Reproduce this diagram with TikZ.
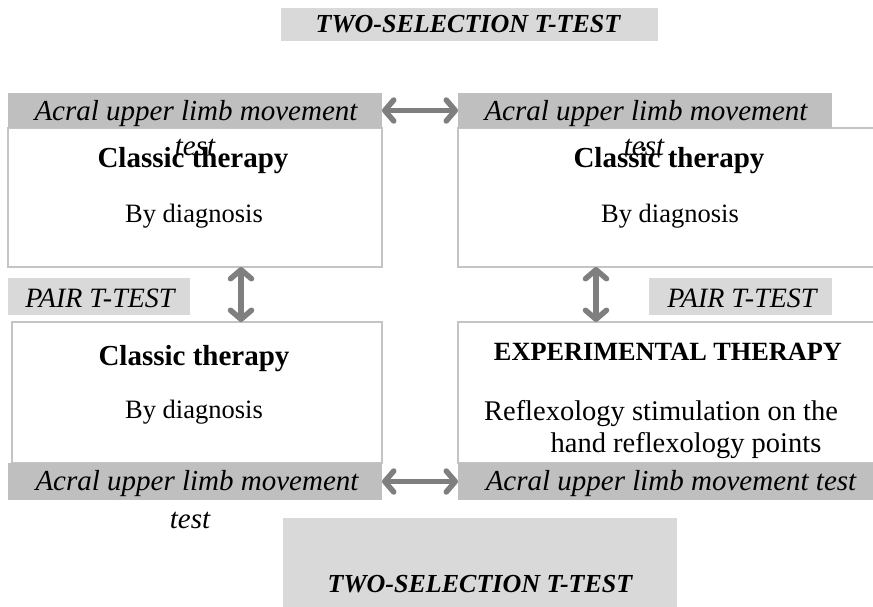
\documentclass[tikz,border=0pt]{standalone}
\usepackage{fontspec}
\setmainfont{Liberation Serif}
\usetikzlibrary{arrows.meta}
\definecolor{hdr}{HTML}{BFBFBF}
\definecolor{lite}{HTML}{D9D9D9}
\definecolor{edgec}{HTML}{C4C4C4}
\definecolor{arr}{HTML}{7F7F7F}
\tikzset{
 wbox/.style 2 args={draw=edgec, line width=1.5pt, fill=white, minimum width=#1, minimum height=#2, inner sep=0pt, outer sep=0pt},
 gbox/.style 2 args={fill=hdr, minimum width=#1, minimum height=#2, inner sep=0pt, outer sep=0pt},
 lbox/.style 2 args={fill=lite, minimum width=#1, minimum height=#2, inner sep=0pt, outer sep=0pt},
 itx/.style={font=\fontsize{29}{35}\selectfont\itshape, anchor=base, inner sep=0pt},
 pairtx/.style={font=\fontsize{28}{34}\selectfont\itshape, anchor=base, inner sep=0pt},
 bdx/.style={font=\fontsize{29}{35}\selectfont\bfseries, anchor=base, inner sep=0pt},
 bdsx/.style={font=\fontsize{26.3}{32}\selectfont\bfseries, anchor=base, inner sep=0pt},
 rgx/.style={font=\fontsize{26.5}{32}\selectfont, anchor=base, inner sep=0pt},
 rglx/.style={font=\fontsize{28.5}{34}\selectfont, anchor=base, inner sep=0pt},
 ttlx/.style={font=\fontsize{26}{32}\selectfont\bfseries\itshape, anchor=base, inner sep=0pt},
 dbl/.style={draw=arr, line width=5.5pt, {Straight Barb[length=9pt,width=21pt,round]}-{Straight Barb[length=9pt,width=21pt,round]}}
}
\begin{document}
\begin{tikzpicture}[x=1pt,y=-1pt]
\useasboundingbox (0,0) rectangle (873,606);
% titles
\node[lbox={377pt}{33pt}] (ttop) at (469.5,24.5) {};
\node[ttlx] (ttoptx) at (468,32) {TWO-SELECTION T-TEST};
\node[lbox={394pt}{92pt}] (tbot) at (480,564) {};
\node[ttlx] (tbottx) at (480,592) {TWO-SELECTION T-TEST};
% top-left
\node[wbox={374pt}{139pt}] (tl) at (195,197.5) {};
\node[gbox={374pt}{35pt}] (tlh) at (195,110.5) {};
\node[itx] (tlh1) at (196,120) {Acral upper limb movement};
\node[bdx] (tl1) at (193,167) {Classic therapy};
\node[itx] (tlh2) at (195,155) {test};
\node[rgx] (tl2) at (194,222) {By diagnosis};
% top-right
\node[wbox={422pt}{139pt}] (tr) at (669,197.5) {};
\node[gbox={374pt}{35pt}] (trh) at (645,110.5) {};
\node[itx] (trh1) at (646,120) {Acral upper limb movement};
\node[bdx] (tr1) at (669,167) {Classic therapy};
\node[itx] (trh2) at (644,155) {test};
\node[rgx] (tr2) at (670,222) {By diagnosis};
% pair labels
\node[lbox={182pt}{37pt}] (pl) at (99,296.5) {};
\node[pairtx] (pltx) at (100,307) {PAIR T-TEST};
\node[lbox={183pt}{37pt}] (pr) at (740.5,296.5) {};
\node[pairtx] (prtx) at (742,307) {PAIR T-TEST};
% bottom-left
\node[wbox={370pt}{141pt}] (bl) at (197,392.5) {};
\node[gbox={374pt}{37pt}] (blf) at (195,481.5) {};
\node[bdx] (bl1) at (194,365) {Classic therapy};
\node[rgx] (bl2) at (194,418) {By diagnosis};
\node[itx] (blf1) at (197,490) {Acral upper limb movement};
\node[itx] (blf2) at (190,528) {test};
% bottom-right
\node[wbox={422pt}{141pt}] (br) at (669,392.5) {};
\node[gbox={422pt}{37pt}] (brf) at (669,481.5) {};
\node[bdsx] (br1) at (668,360) {EXPERIMENTAL THERAPY};
\node[rglx] (br2) at (661,420) {Reflexology stimulation on the};
\node[rglx] (br3) at (686,452) {hand reflexology points};
\node[itx] (brf1) at (671,490) {Acral upper limb movement test};
% arrows
\coordinate (v1) at (241,0);
\coordinate (v2) at (596,0);
\draw[dbl] (tlh.east) -- (trh.west);
\draw[dbl] (blf.east) -- (brf.west);
\draw[dbl] (tl.south -| v1) -- (bl.north -| v1);
\draw[dbl] (tr.south -| v2) -- (br.north -| v2);
\end{tikzpicture}
\end{document}
